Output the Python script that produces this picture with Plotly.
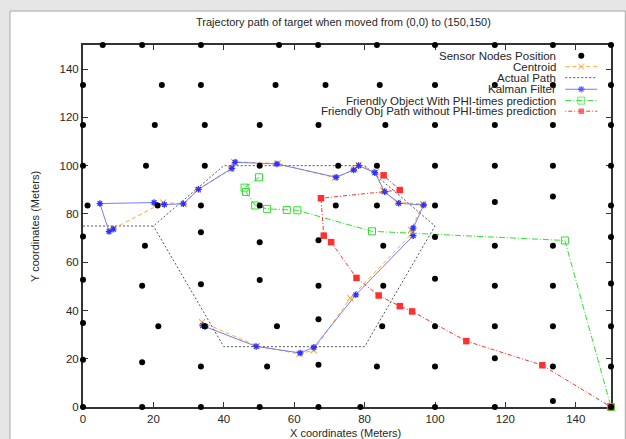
import plotly.graph_objects as go

# ---------------- data ----------------
sensor_x = [5.6, 16.8, 33.5, 55.7, 66.8, 83.5, 100, 117, 133.5, 150,
            0, 22.4, 33.5, 54.7, 68.9, 84.3, 100, 117, 133.5, 150,
            0, 20.4, 34.6, 50.2, 66.9, 85.9, 100, 117, 133.5, 150,
            0, 17.9, 34.6, 50.2, 72.5, 83.5, 100, 117, 133.5, 150,
            1.3, 21.2, 33.5, 50.2, 71.8, 83.5, 100, 117, 133.5, 150,
            0, 17.6, 33.5, 50.2, 66.9, 85.3, 100, 117, 133.5, 150,
            0, 16.8, 33.5, 50.2, 66.9, 85.3, 100, 117, 133.5, 150,
            0, 21.4, 34.6, 55.1, 66.9, 85.0, 100, 117, 133.5, 150,
            0, 16.8, 33.5, 52.3, 66.9, 83.5, 100, 117, 133.5, 150,
            0, 16.8, 33.5, 50.2, 66.9, 78.8, 100, 117, 133.5, 150]
sensor_y = [150, 150, 150, 150, 150, 150, 150, 150, 150, 150,
            133.4, 133.4, 133.4, 133.4, 133.4, 133.4, 133.4, 133.4, 133.4, 133.4,
            116.8, 116.8, 116.8, 116.8, 116.8, 116.8, 116.8, 116.8, 116.8, 116.8,
            100, 100, 100, 100, 100, 100, 100, 100, 100, 100,
            83.5, 83.5, 83.5, 83.5, 83.5, 83.5, 83.5, 84.9, 87.2, 83.5,
            70.6, 66.8, 72.4, 68.3, 69.1, 66.8, 70.4, 66.8, 66.8, 70.4,
            52.7, 50.2, 50.9, 52.6, 50.2, 50.2, 53.1, 50.2, 50.2, 51.2,
            34.8, 33.5, 33.5, 33.5, 36.4, 33.5, 33.5, 33.5, 33.5, 33.5,
            19.6, 18.5, 16.8, 16.8, 17.5, 16.8, 16.8, 20.2, 16.8, 16.8,
            0, 0, 0, 0, 0, 0, 0, 0, 2.5, 0]

centroid_x = [8.6, 22.8, 28.7, 32.6, 42.0, 42.9, 55.3, 71.6, 77.2, 78.3, 83.3,
              85.3, 89.4, 96.6, 93.2, 93.5, 75.9, 65.5, 61.5, 49.4, 33.8]
centroid_y = [73.9, 84.7, 84.2, 90.0, 98.5, 101.6, 100.9, 95.0, 98.6, 100.3, 97.5,
              89.6, 84.8, 84.1, 73.4, 72.0, 45.1, 23.5, 22.0, 25.3, 35.2]

actual_x = [0, 20, 40, 80, 100, 80, 40, 20]
actual_y = [75, 75, 100, 100, 75, 25, 25, 75]

kalman_x = [8.6, 7.4, 4.8, 20.2, 23.1, 28.5, 32.8, 42.3, 43.2, 55.1, 71.9, 76.9,
            78.3, 82.9, 85.7, 89.7, 96.8, 93.8, 93.8, 77.5, 65.6, 61.7, 49.2, 34.7, 34.0]
kalman_y = [73.7, 72.7, 84.3, 84.7, 83.9, 84.2, 90.2, 98.9, 101.4, 100.7, 95.2, 98.2,
            100.0, 97.1, 89.2, 84.4, 83.7, 74.1, 71.0, 46.5, 24.7, 22.4, 25.1, 33.4, 33.7]

phi_x = [50.0, 45.9, 46.3, 48.9, 52.3, 57.9, 60.9, 82.1, 136.9, 150.0]
phi_y = [95.2, 90.9, 89.1, 83.5, 82.1, 81.6, 81.5, 72.8, 69.0, 0.0]

nophi_x = [85.4, 90.0, 67.6, 68.4, 70.5, 77.7, 84.0, 90.0, 93.5, 108.9, 130.5, 150.0]
nophi_y = [96.0, 89.9, 86.5, 71.0, 68.3, 53.5, 46.2, 41.8, 39.6, 27.3, 17.3, 0.0]

tick_vals = [0, 20, 40, 60, 80, 100, 120, 140]

legend_labels = ["Sensor Nodes Position", "Centroid", "Actual Path", "Kalman Filter",
                 "Friendly Object With PHI-times prediction",
                 "Friendly Obj Path without PHI-times prediction"]

# ---------------- styles ----------------
FONT = "Liberation Sans, Arial, sans-serif"
TXT = "#262626"
C_ORANGE = "#ffab30"
C_GRAY = "#555555"
C_BLUE = "#6a6aff"
C_BLUE_M = "#3030ff"
C_GREEN = "#30e030"
C_RED = "#ff3030"

styles = [
    dict(mode="markers", marker=dict(symbol="circle", size=6, color="black")),
    dict(mode="lines+markers", line=dict(color=C_ORANGE, width=1, dash="4px,3px"),
         marker=dict(symbol="x-thin-open", size=6, color=C_ORANGE, line=dict(width=1.2, color=C_ORANGE))),
    dict(mode="lines", line=dict(color=C_GRAY, width=1, dash="2px,2px")),
    dict(mode="lines+markers", line=dict(color=C_BLUE, width=0.9),
         marker=dict(symbol="asterisk-open", size=5.5, color=C_BLUE_M, line=dict(width=1.3, color=C_BLUE_M))),
    dict(mode="lines+markers", line=dict(color=C_GREEN, width=1, dash="6px,2px,1px,2px"),
         marker=dict(symbol="square-open", size=7, color=C_GREEN, line=dict(width=1, color=C_GREEN))),
    dict(mode="lines+markers", line=dict(color=C_RED, width=1, dash="1px,2px,4px,2px"),
         marker=dict(symbol="square", size=6.5, color=C_RED)),
]

series = [(sensor_x, sensor_y), (centroid_x, centroid_y), (actual_x, actual_y),
          (kalman_x, kalman_y), (phi_x, phi_y), (nophi_x, nophi_y)]

fig = go.Figure()
order = [2, 1, 3, 4, 5, 0]
for i in order:
    xs, ys = series[i]
    fig.add_trace(go.Scatter(x=xs, y=ys, name=legend_labels[i], showlegend=False,
                             cliponaxis=False, **styles[i]))

# ---------------- custom gnuplot-style key ----------------
key_rows = [0.9705, 0.9401, 0.9098, 0.8778, 0.8463, 0.8171]
key_x0, key_xm, key_x1 = 0.9134, 0.9437, 0.974
key_text_x = 0.900
annotations = []
for i, lab in enumerate(legend_labels):
    yk = key_rows[i]
    st = styles[i]
    if i == 0:
        fig.add_trace(go.Scatter(x=[key_xm], y=[yk], xaxis="x2", yaxis="y2",
                                 showlegend=False, cliponaxis=False, **st))
    else:
        s = dict(st)
        if "marker" in s:
            m = dict(s["marker"])
            m["size"] = [0, m["size"], 0]
            s["marker"] = m
        fig.add_trace(go.Scatter(x=[key_x0, key_xm, key_x1], y=[yk, yk, yk],
                                 xaxis="x2", yaxis="y2", showlegend=False,
                                 cliponaxis=False, **s))
    annotations.append(dict(text=lab, xref="paper", yref="paper", x=key_text_x, y=yk,
                            xanchor="right", yanchor="middle", showarrow=False,
                            font=dict(family=FONT, size=11.5, color=TXT)))

annotations += [
    dict(text="Trajectory path of target when moved from (0,0) to (150,150)",
         xref="paper", yref="paper", x=0.4927, y=1.0635, xanchor="center", yanchor="middle",
         showarrow=False, font=dict(family=FONT, size=11, color=TXT)),
    dict(text="X coordinates (Meters)", xref="paper", yref="paper", x=0.4965, y=-0.0706,
         xanchor="center", yanchor="middle", showarrow=False,
         font=dict(family=FONT, size=11, color=TXT)),
    dict(text="Y coordinates (Meters)", xref="paper", yref="paper", x=-0.091, y=0.5,
         xanchor="center", yanchor="middle", textangle=-90, showarrow=False,
         font=dict(family=FONT, size=11, color=TXT)),
]

axis_common = dict(range=[0, 150], tickvals=tick_vals, ticks="inside", ticklen=5,
                   tickwidth=1, tickcolor="#333", showline=True, linecolor="#333",
                   linewidth=2, mirror="ticks", showgrid=False, zeroline=False,
                   layer="below traces", fixedrange=True,
                   tickfont=dict(family=FONT, size=11.5, color=TXT))

fig.update_layout(
    width=626, height=439,
    margin=dict(l=83, r=15, t=45, b=32, autoexpand=False),
    paper_bgcolor="#e6e6e6", plot_bgcolor="white",
    xaxis=axis_common, yaxis=axis_common,
    xaxis2=dict(range=[0, 1], overlaying="x", visible=False, fixedrange=True),
    yaxis2=dict(range=[0, 1], overlaying="y", visible=False, fixedrange=True),
    annotations=annotations,
    shapes=[dict(type="rect", xref="paper", yref="paper", x0=-0.1383, x1=1.027,
                 y0=-0.12, y1=1.0938, fillcolor="white",
                 line=dict(color="#a8a8a8", width=1), layer="below")],
    showlegend=False,
)

fig.write_html("out.html", config={"displayModeBar": False},
               post_script="document.body.style.margin='0';document.body.style.overflow='hidden';")
